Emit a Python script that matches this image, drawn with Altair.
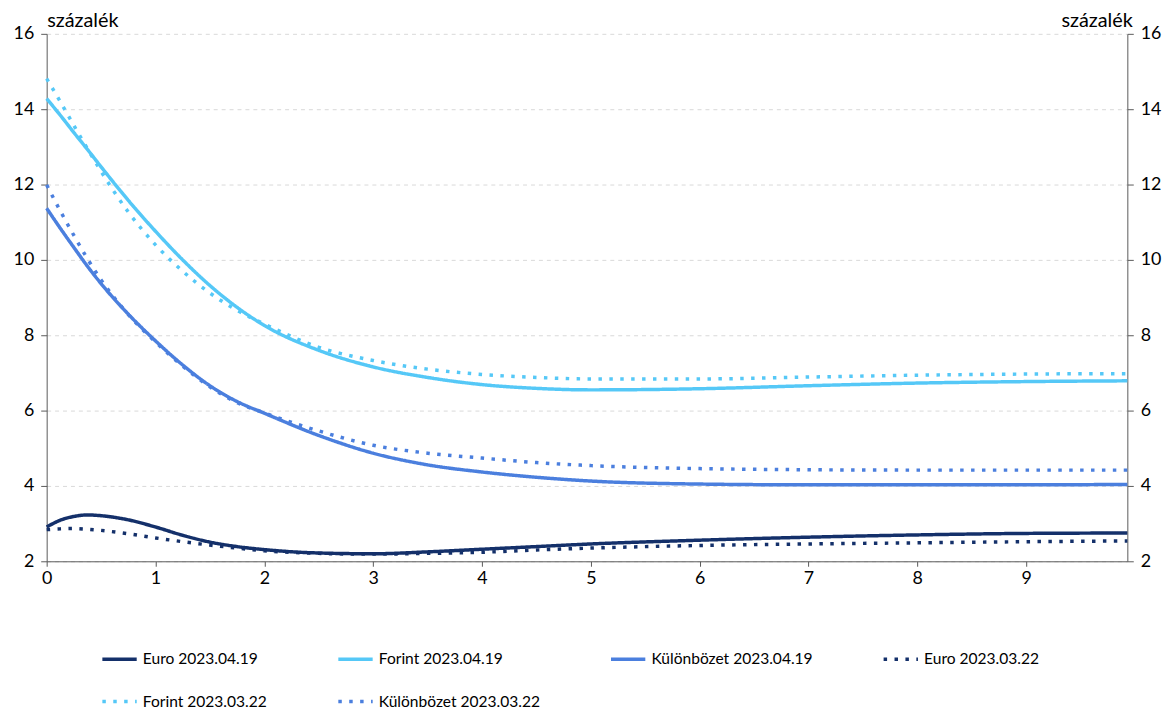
import altair as alt
import pandas as pd

# horizon (years)
x_years = [0, 0.125, 0.25, 0.375, 0.5, 0.75, 1, 1.25, 1.5, 1.75, 2, 2.5, 3, 3.5, 4, 4.5, 5, 6, 7, 8, 9, 9.93]

euro_0419 = [2.91, 3.09, 3.19, 3.23, 3.21, 3.10, 2.91, 2.69, 2.51, 2.39, 2.31, 2.22, 2.20, 2.25, 2.32, 2.39, 2.46, 2.56, 2.64, 2.70, 2.74, 2.75]
forint_0419 = [14.28, 13.84, 13.38, 12.93, 12.47, 11.58, 10.76, 10.00, 9.32, 8.74, 8.26, 7.60, 7.16, 6.88, 6.69, 6.59, 6.55, 6.58, 6.66, 6.73, 6.77, 6.79]
kulonbozet_0419 = [11.37, 10.84, 10.33, 9.83, 9.37, 8.56, 7.85, 7.21, 6.66, 6.24, 5.93, 5.34, 4.87, 4.56, 4.37, 4.23, 4.13, 4.05, 4.03, 4.03, 4.03, 4.04]
euro_0322 = [2.84, 2.86, 2.87, 2.85, 2.82, 2.73, 2.62, 2.52, 2.43, 2.35, 2.28, 2.21, 2.19, 2.21, 2.24, 2.30, 2.35, 2.42, 2.46, 2.49, 2.52, 2.54]
forint_0322 = [14.81, 14.20, 13.57, 12.95, 12.35, 11.27, 10.40, 9.70, 9.12, 8.66, 8.30, 7.68, 7.33, 7.10, 6.96, 6.88, 6.84, 6.84, 6.89, 6.94, 6.97, 6.98]
kulonbozet_0322 = [11.99, 11.30, 10.65, 10.03, 9.47, 8.55, 7.82, 7.18, 6.63, 6.21, 5.94, 5.46, 5.08, 4.87, 4.74, 4.62, 4.54, 4.46, 4.43, 4.42, 4.42, 4.42]

series_names = ["Euro 2023.04.19", "Forint 2023.04.19", "Különbözet 2023.04.19",
                "Euro 2023.03.22", "Forint 2023.03.22", "Különbözet 2023.03.22"]
series_values = [euro_0419, forint_0419, kulonbozet_0419, euro_0322, forint_0322, kulonbozet_0322]
series_colors = ["#14306A", "#55C8F7", "#4B7FDE", "#14306A", "#55C8F7", "#4B7FDE"]
series_dash = [[1, 0], [1, 0], [1, 0], [3.5, 7.5], [3.5, 7.5], [3.5, 7.5]]
solid_names = series_names[:3]
dotted_names = series_names[3:]

x_ticks = [0, 1, 2, 3, 4, 5, 6, 7, 8, 9]
y_ticks = [2, 4, 6, 8, 10, 12, 14, 16]
y_title = "százalék"

rows = []
for name, vals in zip(series_names, series_values):
    for i, (x, v) in enumerate(zip(x_years, vals)):
        rows.append({"series": name, "x": x, "value": v, "order": i})
df = pd.DataFrame(rows)

FONT = "Lato"
AXIS_COLOR = "#595959"

color = alt.Color(
    "series:N",
    sort=series_names,
    scale=alt.Scale(domain=series_names, range=series_colors),
    legend=alt.Legend(
        title=None, orient="none", legendX=54, legendY=611, columns=4,
        direction="horizontal", values=series_names,
        columnPadding=64, rowPadding=15, symbolType="stroke",
        symbolStrokeWidth=3.5, symbolSize=1200, labelFontSize=15.7,
        labelFont=FONT, labelColor="black", labelOffset=4, labelLimit=400,
    ),
)
dash = alt.StrokeDash(
    "series:N",
    sort=series_names,
    scale=alt.Scale(domain=series_names, range=series_dash),
)

x_enc = alt.X(
    "x:Q",
    scale=alt.Scale(domain=[0, 9.93], nice=False, zero=False),
    axis=alt.Axis(values=x_ticks, format="d", title=None, grid=False,
                  labelFontSize=18, labelFont=FONT, labelColor="black",
                  tickSize=5, tickColor=AXIS_COLOR, domainColor=AXIS_COLOR,
                  labelPadding=3, labelFlush=False),
)

y_scale = alt.Scale(domain=[2, 16], nice=False, zero=False)

left_axis = alt.Axis(
    values=y_ticks, grid=True, gridDash=[4, 4], gridColor="#d9d9d9",
    domainColor=AXIS_COLOR, tickColor=AXIS_COLOR, tickSize=6,
    labelFontSize=18, labelFont=FONT, labelColor="black", labelPadding=7,
    title=y_title, titleAngle=0, titleAlign="left", titleBaseline="alphabetic",
    titleX=0, titleY=-7, titleFontSize=20, titleFont=FONT,
    titleFontWeight="normal", titleColor="black",
)
right_axis = alt.Axis(
    values=y_ticks, grid=False, orient="right",
    domainColor=AXIS_COLOR, tickColor=AXIS_COLOR, tickSize=6,
    labelFontSize=18, labelFont=FONT, labelColor="black", labelPadding=7,
    title=y_title, titleAngle=0, titleAlign="right", titleBaseline="alphabetic",
    titleX=5, titleY=-7, titleFontSize=20, titleFont=FONT,
    titleFontWeight="normal", titleColor="black",
)

base = alt.Chart(df).mark_line(strokeWidth=3.5, interpolate="monotone", strokeCap="butt")

solid = base.transform_filter(
    alt.FieldOneOfPredicate(field="series", oneOf=solid_names)
).encode(
    x=x_enc,
    y=alt.Y("value:Q", scale=y_scale, axis=left_axis),
    color=color, strokeDash=dash, order="order:Q",
)

dotted = base.transform_filter(
    alt.FieldOneOfPredicate(field="series", oneOf=dotted_names)
).encode(
    x=x_enc,
    y=alt.Y("value:Q", scale=y_scale, axis=right_axis),
    color=color, strokeDash=dash, order="order:Q",
)

chart = alt.layer(solid, dotted).resolve_axis(y="independent").properties(
    width=1090, height=532,
    padding={"left": 5, "top": 0, "right": 5, "bottom": 5},
    background="white",
).configure_view(stroke=None)

chart.save("out.html", embed_options={"renderer": "svg", "actions": False})
